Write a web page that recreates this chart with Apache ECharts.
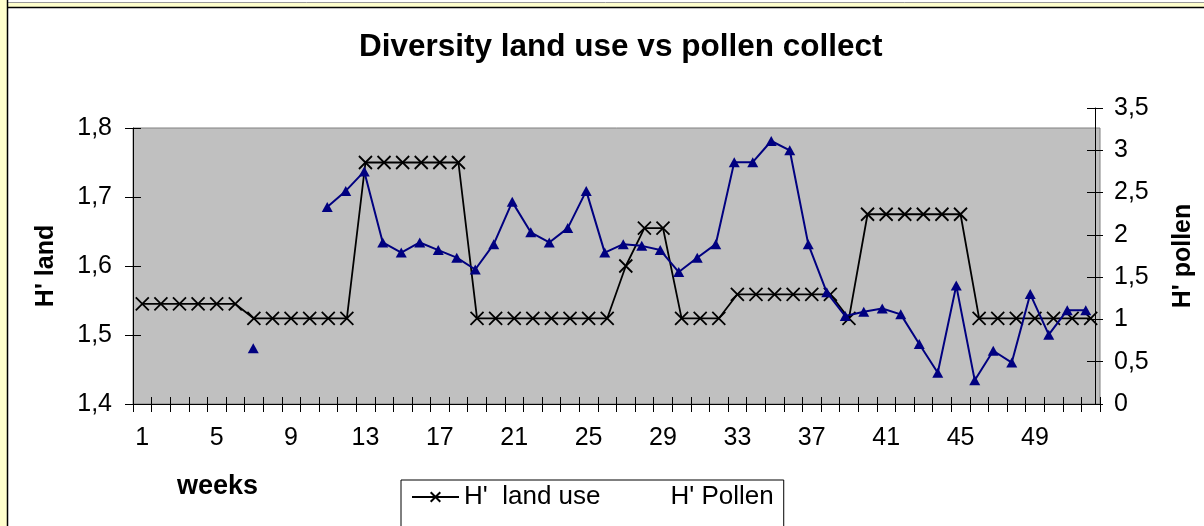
<!DOCTYPE html>
<html>
<head>
<meta charset="utf-8">
<script src="https://cdn.jsdelivr.net/npm/echarts@6/dist/echarts.min.js"></script>
<style>
  html, body { margin: 0; padding: 0; background: #fff; }
  #chart { width: 1204px; height: 526px; }
</style>
</head>
<body>
<div id="chart"></div>
<script>
// Week numbers on the category axis
const weeks = ['1','2','3','4','5','6','7','8','9','10','11','12','13','14','15','16','17','18','19','20','21','22','23','24','25','26',
  '27','28','29','30','31','32','33','34','35','36','37','38','39','40','41','42','43','44','45','46','47','48','49','50','51','52'];

// Shannon diversity of land use around the hives (left axis)
const landUse = [1.545,1.545,1.545,1.545,1.545,1.545,
  1.524,1.524,1.524,1.524,1.524,1.524,
  1.75,1.75,1.75,1.75,1.75,1.75,
  1.524,1.524,1.524,1.524,1.524,1.524,1.524,1.524,
  1.60,1.655,1.655,
  1.524,1.524,1.524,
  1.559,1.559,1.559,1.559,1.559,1.559,
  1.524,
  1.675,1.675,1.675,1.675,1.675,1.675,
  1.524,1.524,1.524,1.524,1.524,1.524,1.524];

// Shannon diversity of collected pollen (right axis); null = no sample
const pollen = [null,null,null,null,null,null,0.66,null,null,null,
  2.33,2.52,2.75,1.91,1.79,1.91,1.82,1.73,1.59,1.89,
  2.39,2.03,1.91,2.08,2.52,1.79,1.89,1.87,1.82,1.56,
  1.73,1.89,2.86,2.86,3.11,3.00,1.89,1.32,1.04,1.09,
  1.13,1.06,0.71,0.37,1.40,0.28,0.63,0.49,1.30,0.82,
  1.11,1.11];

const FONT = 'Liberation Sans, Arial, sans-serif';
const comma = v => (Number.isInteger(Math.round(v * 10) / 10) ? String(Math.round(v)) : v.toFixed(1)).replace('.', ',');
const crossSymbol = 'path://M0,0L10,10M10,0L0,10';

const chart = echarts.init(document.getElementById('chart'), null, { renderer: 'canvas' });

chart.setOption({
  backgroundColor: '#ffffff',
  animation: false,
  title: {
    text: 'Diversity land use vs pollen collect',
    left: 354, top: 26,
    textStyle: { fontFamily: FONT, fontSize: 31.5, fontWeight: 'bold', color: '#000' }
  },
  legend: {
    left: 401, top: 480,
    padding: [4, 10, 40, 10],
    borderColor: '#000', borderWidth: 1, backgroundColor: '#fff',
    itemWidth: 47, itemHeight: 12, itemGap: 17,
    textStyle: { fontFamily: FONT, fontSize: 26, color: '#000' },
    data: [
      { name: "H'  land use" },
      { name: "H' Pollen", itemStyle: { opacity: 0 }, lineStyle: { opacity: 0 } }
    ]
  },
  grid: [
    { left: 133, right: 104, top: 128, bottom: 122, show: true, backgroundColor: '#c0c0c0', borderColor: '#808080', borderWidth: 1 },
    { left: 133, right: 104, top: 108, bottom: 122, show: false }
  ],
  xAxis: [
    {
      gridIndex: 0, type: 'category', data: weeks, boundaryGap: true, position: 'bottom',
      axisLine: { show: true, lineStyle: { color: '#000', width: 1 } },
      axisTick: { show: true, interval: 0, alignWithLabel: false, length: 8, inside: false, lineStyle: { color: '#000', width: 1 } },
      axisLabel: { interval: 3, margin: 22, fontFamily: FONT, fontSize: 25, color: '#000' },
      splitLine: { show: false }
    },
    {
      gridIndex: 0, type: 'category', data: weeks, boundaryGap: true, position: 'bottom',
      axisLine: { show: false },
      axisTick: { show: true, interval: 0, alignWithLabel: false, length: 7, inside: true, lineStyle: { color: '#000', width: 1 } },
      axisLabel: { show: false },
      splitLine: { show: false }
    },
    { gridIndex: 1, type: 'category', data: weeks, boundaryGap: true, show: false }
  ],
  yAxis: [
    {
      gridIndex: 0, type: 'value', position: 'left', min: 1.4, max: 1.8, interval: 0.1,
      name: "H' land", nameLocation: 'middle', nameGap: 74, nameRotate: 90,
      nameTextStyle: { fontFamily: FONT, fontSize: 25, fontWeight: 'bold', color: '#000' },
      axisLine: { show: true, lineStyle: { color: '#000', width: 1 } },
      axisTick: { show: true, length: 8, lineStyle: { color: '#000' } },
      axisLabel: { margin: 21, fontFamily: FONT, fontSize: 25, color: '#000', formatter: comma },
      splitLine: { show: false }
    },
    {
      gridIndex: 0, type: 'value', position: 'left', min: 1.4, max: 1.8, interval: 0.1,
      axisLine: { show: false },
      axisTick: { show: true, inside: true, length: 8, lineStyle: { color: '#000' } },
      axisLabel: { show: false },
      splitLine: { show: false }
    },
    {
      gridIndex: 1, type: 'value', position: 'right', min: 0, max: 3.5, interval: 0.5,
      name: "H' pollen", nameLocation: 'middle', nameGap: 76, nameRotate: 90,
      nameTextStyle: { fontFamily: FONT, fontSize: 25, fontWeight: 'bold', color: '#000' },
      axisLine: { show: true, lineStyle: { color: '#000', width: 1 } },
      axisTick: { show: true, length: 8, lineStyle: { color: '#000' } },
      axisLabel: { margin: 19, fontFamily: FONT, fontSize: 25, color: '#000', formatter: comma },
      splitLine: { show: false }
    },
    {
      gridIndex: 1, type: 'value', position: 'right', min: 0, max: 3.5, interval: 0.5,
      axisLine: { show: false },
      axisTick: { show: true, inside: true, length: 8, lineStyle: { color: '#000' } },
      axisLabel: { show: false },
      splitLine: { show: false }
    }
  ],
  series: [
    {
      name: "H'  land use", type: 'line', xAxisIndex: 0, yAxisIndex: 0, data: landUse,
      symbol: crossSymbol, symbolSize: 13, showAllSymbol: true,
      lineStyle: { color: '#000', width: 1.8 },
      itemStyle: { color: 'rgba(0,0,0,0)', borderColor: '#000', borderWidth: 1.8 },
      z: 2
    },
    {
      name: "H' Pollen", type: 'line', xAxisIndex: 2, yAxisIndex: 2, data: pollen,
      symbol: 'triangle', symbolSize: [11, 10], showAllSymbol: true, connectNulls: false,
      lineStyle: { color: '#000080', width: 2 },
      itemStyle: { color: '#000080', borderWidth: 0 },
      z: 3
    }
  ],
  graphic: [
    { type: 'rect', shape: { x: 0, y: 0, width: 7, height: 526 }, style: { fill: '#ffffcc' }, silent: true, z: 10 },
    { type: 'rect', shape: { x: 7, y: 3, width: 1197, height: 4 }, style: { fill: '#ffffcc' }, silent: true, z: 10 },
    { type: 'line', shape: { x1: 7, y1: 2.5, x2: 1204, y2: 2.5 }, style: { stroke: '#9a9a9a', lineWidth: 1 }, silent: true, z: 10 },
    { type: 'line', shape: { x1: 7, y1: 7.5, x2: 1204, y2: 7.5 }, style: { stroke: '#000', lineWidth: 1.5 }, silent: true, z: 10 },
    { type: 'line', shape: { x1: 7.5, y1: 0, x2: 7.5, y2: 526 }, style: { stroke: '#000', lineWidth: 1.5 }, silent: true, z: 10 },
    {
      type: 'text', left: 177, top: 473, silent: true,
      style: { text: 'weeks', fontFamily: FONT, fontSize: 27, fontWeight: 'bold', fill: '#000' }
    }
  ]
});
</script>
</body>
</html>
